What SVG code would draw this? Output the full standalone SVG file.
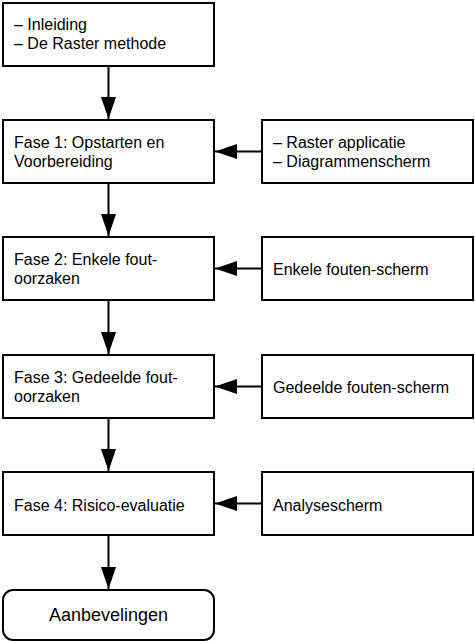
<svg xmlns="http://www.w3.org/2000/svg" width="475" height="642" viewBox="0 0 475 642">
<style>
.box{fill:#fff;stroke:#000;stroke-width:2}
.t{font-family:"Liberation Sans",Arial,sans-serif;font-size:16px;fill:#000}
.big{font-size:18px}
.c{stroke:#000;stroke-width:2;fill:none}
</style>
<defs>
<marker id="ah" markerUnits="userSpaceOnUse" markerWidth="24" markerHeight="16" refX="22" refY="7.5" orient="auto">
<path d="M0,0 L22,7.5 L0,15 Z" fill="#000"/>
</marker>
</defs>
<rect width="475" height="642" fill="#fff"/>
<g id="connectors">
<line class="c" x1="108.5" y1="66" x2="108.5" y2="119" marker-end="url(#ah)"/>
<line class="c" x1="108.5" y1="183" x2="108.5" y2="236" marker-end="url(#ah)"/>
<line class="c" x1="108.5" y1="300" x2="108.5" y2="354" marker-end="url(#ah)"/>
<line class="c" x1="108.5" y1="418" x2="108.5" y2="471" marker-end="url(#ah)"/>
<line class="c" x1="108.5" y1="535" x2="108.5" y2="589" marker-end="url(#ah)"/>
<line class="c" x1="262" y1="151.5" x2="215" y2="151.5" marker-end="url(#ah)"/>
<line class="c" x1="262" y1="268.5" x2="215" y2="268.5" marker-end="url(#ah)"/>
<line class="c" x1="262" y1="386.5" x2="215" y2="386.5" marker-end="url(#ah)"/>
<line class="c" x1="262" y1="503.5" x2="215" y2="503.5" marker-end="url(#ah)"/>
</g>
<g id="intro">
<rect class="box" x="3" y="3" width="211" height="63"/>
<text class="t" x="14" y="30">– Inleiding</text>
<text class="t" x="14" y="49">– De Raster methode</text>
</g>
<g id="fase1">
<rect class="box" x="3" y="120" width="211" height="63"/>
<text class="t" x="14" y="148">Fase 1: Opstarten en</text>
<text class="t" x="14" y="167">Voorbereiding</text>
</g>
<g id="raster">
<rect class="box" x="262" y="120" width="211" height="63"/>
<text class="t" x="273" y="148">– Raster applicatie</text>
<text class="t" x="273" y="167">– Diagrammenscherm</text>
</g>
<g id="fase2">
<rect class="box" x="3" y="237" width="211" height="63"/>
<text class="t" x="14" y="265">Fase 2: Enkele fout-</text>
<text class="t" x="14" y="284">oorzaken</text>
</g>
<g id="enkele">
<rect class="box" x="262" y="237" width="211" height="63"/>
<text class="t" x="273" y="275">Enkele fouten-scherm</text>
</g>
<g id="fase3">
<rect class="box" x="3" y="355" width="211" height="63"/>
<text class="t" x="14" y="383">Fase 3: Gedeelde fout-</text>
<text class="t" x="14" y="402">oorzaken</text>
</g>
<g id="gedeelde">
<rect class="box" x="262" y="355" width="211" height="63"/>
<text class="t" x="273" y="393">Gedeelde fouten-scherm</text>
</g>
<g id="fase4">
<rect class="box" x="3" y="472" width="211" height="63"/>
<text class="t" x="14" y="511">Fase 4: Risico-evaluatie</text>
</g>
<g id="analyse">
<rect class="box" x="262" y="472" width="211" height="63"/>
<text class="t" x="273" y="511">Analysescherm</text>
</g>
<g id="aanbevelingen">
<rect class="box" x="3" y="590" width="211" height="50" rx="10" ry="10"/>
<text class="t big" x="108.5" y="620.5" text-anchor="middle">Aanbevelingen</text>
</g>
</svg>
